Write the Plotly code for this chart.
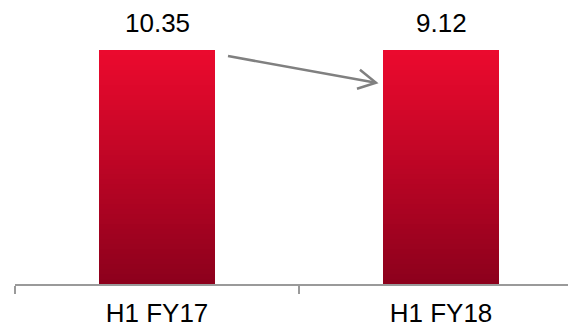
import plotly.graph_objects as go

# Data
categories = ["H1 FY17", "H1 FY18"]
values = [10.35, 9.12]          # value labels shown above bars
bar_heights = [1.0, 1.0]        # bars are drawn at equal height in the reference
top_color = (236, 10, 46)
bottom_color = (140, 0, 28)

N_SEG = 47
fig = go.Figure()

def mix(t):
    c = [round(bottom_color[i] + (top_color[i] - bottom_color[i]) * t) for i in range(3)]
    return f"rgb({c[0]},{c[1]},{c[2]})"

for k in range(N_SEG):
    t = (k + 0.5) / N_SEG
    fig.add_trace(go.Bar(
        x=categories,
        y=[h / N_SEG for h in bar_heights],
        marker=dict(color=mix(t), line=dict(width=0)),
        width=0.405,
        hoverinfo="skip",
        showlegend=False,
    ))

# value labels
for cat, h, v in zip(categories, bar_heights, values):
    fig.add_annotation(x=cat, y=h, text=f"{v:.2f}", showarrow=False,
                       yanchor="middle", yshift=27,
                       font=dict(family="Liberation Sans, Arial", size=26, color="#000000"))

# arrow between bars (from first bar toward second)
x0, y0 = 0.25, 0.974
x1, y1 = 0.771, 0.860
fig.add_shape(type="line", xref="x", yref="y", x0=x0, y0=y0, x1=x1, y1=y1,
              line=dict(color="#808080", width=2.5))
px_x = 1 / 284.0
px_y = 1 / 234.0
path = (f"M {x1 - 16*px_x},{y1 + 13*px_y} L {x1},{y1} L {x1 - 19*px_x},{y1 - 6*px_y}")
fig.add_shape(type="path", xref="x", yref="y", path=path,
              line=dict(color="#808080", width=2.5))

fig.update_layout(
    width=568, height=327,
    margin=dict(l=15, r=0, t=0, b=43, autoexpand=False),
    barmode="stack",
    plot_bgcolor="white", paper_bgcolor="white",
    xaxis=dict(
        type="category", range=[-0.5, -0.5 + 553 / 284],
        showline=True, linecolor="#9a9a9a", linewidth=2,
        ticks="outside", tickson="boundaries", ticklen=8, tickcolor="#9a9a9a", tickwidth=2,
        ticklabelstandoff=5,
        showgrid=False, zeroline=False,
        tickfont=dict(family="Liberation Sans, Arial", size=26, color="#000000"),
    ),
    yaxis=dict(range=[0, 284 / 234], visible=False, showgrid=False, zeroline=False),
    bargap=0,
)

fig.write_html(
    "out.html",
    config={"displayModeBar": False},
    post_script="document.body.style.margin='0';document.body.style.overflow='hidden';",
)
